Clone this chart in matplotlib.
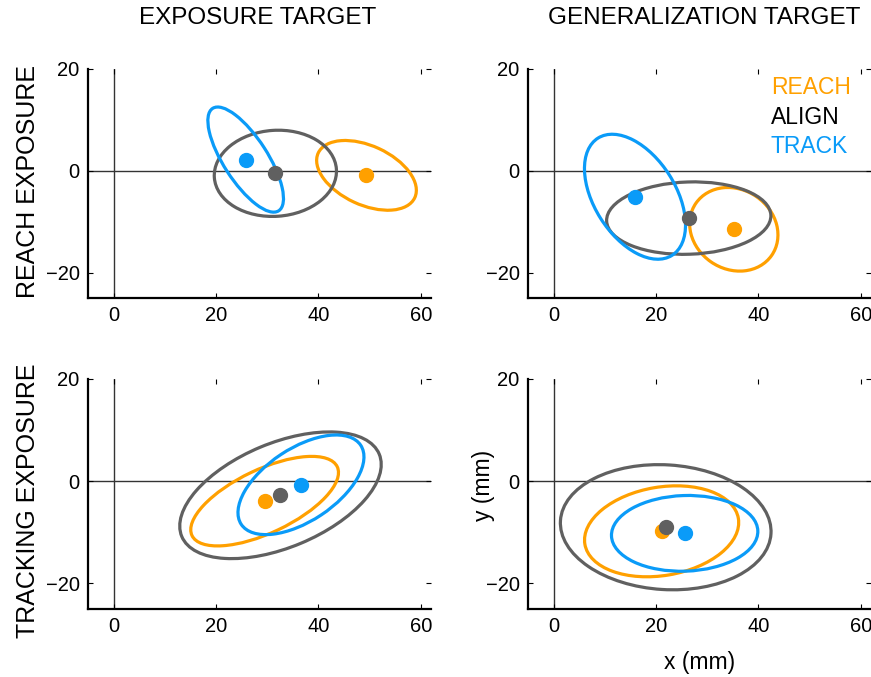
import matplotlib
matplotlib.use("Agg")
import matplotlib.pyplot as plt
from matplotlib.patches import Ellipse

plt.rcParams['font.family'] = ['Liberation Sans', 'DejaVu Sans']

# groups, drawn in this order
groups = ["REACH", "ALIGN", "TRACK"]
group_colors = ["#FFA000", "#606060", "#0A9BF8"]
legend_colors = ["#FFA000", "#000000", "#0A9BF8"]

# panels: reach exp / exposure target, reach exp / generalization target,
#         tracking exp / exposure target, tracking exp / generalization target
col_titles = ["EXPOSURE TARGET", "GENERALIZATION TARGET"]
row_titles = ["REACH EXPOSURE", "TRACKING EXPOSURE"]

# means (mm), one row per panel, one column per group
mean_x = [[49.4, 31.6, 25.8],
          [35.2, 26.4, 15.9],
          [29.5, 32.6, 36.6],
          [21.1, 21.9, 25.6]]
mean_y = [[-0.9, -0.5, 2.2],
          [-11.5, -9.3, -5.1],
          [-3.9, -2.75, -0.7],
          [-9.8, -9.0, -10.2]]
# ellipse semi-axes (mm) and orientation (deg)
semi_major = [[10.4, 11.95, 11.95],
              [9.0, 16.05, 13.6],
              [15.7, 20.9, 14.0],
              [15.2, 20.6, 14.3]]
semi_minor = [[5.8, 8.45, 4.3],
              [7.8, 7.1, 7.95],
              [6.2, 10.2, 7.1],
              [8.65, 12.2, 7.4]]
angle_deg = [[-25, 4, 122.6],
             [-35, 2, 122],
             [25.4, 22.7, 33.6],
             [9.6, -3.6, 2]]

xticks = [0, 20, 40, 60]
yticks = [-20, 0, 20]

W, H = 871, 677
fig = plt.figure(figsize=(W / 100, H / 100), dpi=100)

# axes boxes in pixels: left, top, right, bottom
boxes = [(88, 69, 431, 298), (528, 69, 871, 298),
         (88, 379, 431, 609), (528, 379, 871, 609)]

for p, (l, t, r, b) in enumerate(boxes):
    ax = fig.add_axes([l / W, 1 - b / H, (r - l) / W, (b - t) / H])
    ax.set_xlim(-5, 62)
    ax.set_ylim(-25, 20)
    ax.axhline(0, color="#333333", lw=1, zorder=0)
    ax.axvline(0, color="#333333", lw=1, zorder=0)

    for g in range(3):
        e = Ellipse((mean_x[p][g], mean_y[p][g]),
                    width=2 * semi_major[p][g], height=2 * semi_minor[p][g],
                    angle=angle_deg[p][g], fill=False,
                    edgecolor=group_colors[g], lw=2.3, zorder=2)
        ax.add_patch(e)
    # dots: align drawn last
    for g in [0, 2, 1]:
        ax.plot(mean_x[p][g], mean_y[p][g], 'o', color=group_colors[g],
                markersize=10, zorder=3)

    ax.set_xticks(xticks)
    ax.set_yticks(yticks)
    ax.set_yticklabels(["\u221220", "0", "20"])
    ax.tick_params(direction="in", length=3.5, width=0.8, top=True, right=True,
                   labelsize=14.5, pad=6)
    ax.spines["top"].set_visible(False)
    ax.spines["right"].set_visible(False)
    ax.spines["left"].set_linewidth(1.6)
    ax.spines["bottom"].set_linewidth(1.6)

    if p == 1:
        for g in range(3):
            ax.text(42.4, 16.3 - 5.8 * g, groups[g], color=legend_colors[g],
                    fontsize=16.5, ha="left", va="center")

fig.text(258 / W, 1 - 18 / H, col_titles[0], fontsize=17.5, ha="center", va="center")
fig.text(704 / W, 1 - 18 / H, col_titles[1], fontsize=17.5, ha="center", va="center")
fig.text(28 / W, 1 - 181 / H, row_titles[0], fontsize=18, rotation=90,
         ha="center", va="center")
fig.text(28 / W, 1 - 501 / H, row_titles[1], fontsize=18, rotation=90,
         ha="center", va="center")
fig.text(483 / W, 1 - 485 / H, "y (mm)", fontsize=16.5, rotation=90,
         ha="center", va="center")
fig.text(700 / W, 1 - 662 / H, "x (mm)", fontsize=16.5, ha="center", va="center")

fig.savefig("out.png", dpi=100)
